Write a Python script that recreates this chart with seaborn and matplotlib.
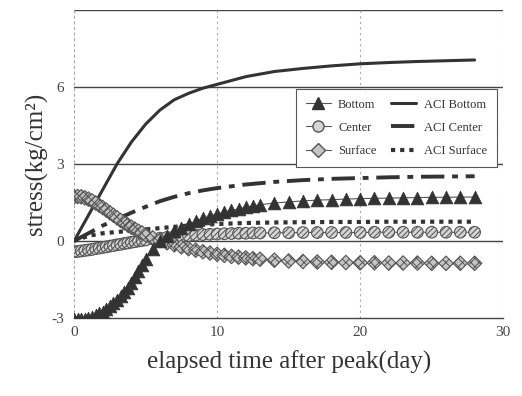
import numpy as np
import pandas as pd
import matplotlib
matplotlib.use("Agg")
import matplotlib.pyplot as plt
import seaborn as sns
from matplotlib.lines import Line2D

# ---------------- data ----------------
t_meas = [0, 0.25, 0.5, 0.75, 1, 1.25, 1.5, 1.75, 2, 2.25, 2.5, 2.75, 3, 3.25, 3.5, 3.75,
          4, 4.25, 4.5, 4.75, 5,
          5.5, 6, 6.5, 7, 7.5, 8, 8.5, 9, 9.5, 10, 10.5, 11, 11.5, 12, 12.5, 13,
          14, 15, 16, 17, 18, 19, 20, 21, 22, 23, 24, 25, 26, 27, 28]

bottom = [-3.05, -3.05, -3.05, -3.03, -3.0, -2.95, -2.88, -2.82, -2.75, -2.65, -2.55, -2.43,
          -2.3, -2.15, -2.0, -1.82, -1.62, -1.4, -1.17, -0.93, -0.7,
          -0.3, 0.0, 0.2, 0.38, 0.52, 0.65, 0.77, 0.88, 0.97, 1.05, 1.12, 1.19, 1.25, 1.31, 1.36, 1.41,
          1.48, 1.52, 1.56, 1.59, 1.61, 1.63, 1.65, 1.66, 1.67, 1.68, 1.69, 1.7, 1.7, 1.71, 1.71]

center = [-0.42, -0.41, -0.39, -0.37, -0.35, -0.33, -0.3, -0.28, -0.25, -0.23, -0.2, -0.18,
          -0.15, -0.13, -0.1, -0.08, -0.05, -0.03, 0.0, 0.02, 0.04,
          0.08, 0.11, 0.14, 0.17, 0.19, 0.21, 0.23, 0.25, 0.26, 0.27, 0.28, 0.29, 0.3, 0.3, 0.31, 0.31,
          0.32, 0.32, 0.33, 0.33, 0.33, 0.33, 0.33, 0.34, 0.34, 0.34, 0.34, 0.34, 0.34, 0.34, 0.34]

surface = [1.72, 1.73, 1.72, 1.68, 1.63, 1.56, 1.48, 1.39, 1.3, 1.2, 1.1, 1.0,
           0.9, 0.8, 0.71, 0.62, 0.54, 0.46, 0.38, 0.31, 0.24,
           0.12, 0.02, -0.07, -0.15, -0.23, -0.3, -0.36, -0.42, -0.47, -0.52, -0.56, -0.6, -0.63, -0.66, -0.69, -0.71,
           -0.75, -0.78, -0.8, -0.82, -0.83, -0.84, -0.85, -0.85, -0.86, -0.86, -0.86, -0.87, -0.87, -0.87, -0.87]

t_aci = [0, 1, 2, 3, 4, 5, 6, 7, 8, 9, 10, 12, 14, 16, 18, 20, 22, 24, 26, 28]
aci_bottom = [0.0, 1.0, 2.0, 3.0, 3.85, 4.55, 5.1, 5.5, 5.75, 5.95, 6.1, 6.4, 6.6, 6.72, 6.82, 6.9, 6.95, 6.99, 7.02, 7.05]
aci_center = [0.0, 0.3, 0.6, 0.85, 1.1, 1.33, 1.55, 1.72, 1.86, 1.97, 2.06, 2.2, 2.3, 2.37, 2.42, 2.45, 2.48, 2.5, 2.51, 2.52]
aci_surface = [0.0, 0.2, 0.3, 0.35, 0.4, 0.45, 0.5, 0.55, 0.6, 0.63, 0.66, 0.7, 0.72, 0.73, 0.74, 0.74, 0.75, 0.75, 0.75, 0.75]

x_ticks = [0, 10, 20, 30]
y_ticks = [-3, 0, 3, 6]

# ---------------- figure ----------------
sns.set_style("white")
plt.rcParams['font.family'] = ['Liberation Serif', 'DejaVu Serif']
plt.rcParams['axes.unicode_minus'] = False
plt.rcParams['hatch.linewidth'] = 0.7
plt.rcParams['hatch.color'] = '#555555'

fig = plt.figure(figsize=(5.22, 3.96), dpi=100)
ax = fig.add_axes([0.142, 0.197, 0.822, 0.778])

dark = "#333333"
gridc = "#444444"

# grid lines
for yv in [0, 3, 6, 9]:
    ax.axhline(yv, color=gridc, lw=1.0, zorder=1)
for xv in [10, 20, 30]:
    ax.axvline(xv, color="#aaaaaa", lw=0.8, ls=(0, (2, 3)), zorder=1)

df_meas = pd.DataFrame({"t": t_meas, "Bottom": bottom, "Center": center, "Surface": surface})
df_aci = pd.DataFrame({"t": t_aci, "ACI Bottom": aci_bottom,
                       "ACI Center": aci_center, "ACI Surface": aci_surface})

# ACI lines
sns.lineplot(data=df_aci, x="t", y="ACI Bottom", ax=ax, color=dark, lw=2.2, zorder=3)
sns.lineplot(data=df_aci, x="t", y="ACI Center", ax=ax, color=dark, lw=2.8, zorder=3)
ax.lines[-1].set_linestyle((0, (6, 2, 1.5, 2)))
sns.lineplot(data=df_aci, x="t", y="ACI Surface", ax=ax, color=dark, lw=3.0, zorder=3)
ax.lines[-1].set_linestyle((0, (1.0, 1.2)))

# measured series: thin connecting lines + markers
for col in ["Bottom", "Center", "Surface"]:
    sns.lineplot(data=df_meas, x="t", y=col, ax=ax, color="#555555", lw=0.8, zorder=4)

sns.scatterplot(data=df_meas, x="t", y="Center", ax=ax, marker="o", s=70,
                facecolor="#d4d4d4", edgecolor="#555555", linewidth=0.8, zorder=5)
ax.collections[-1].set_hatch("//////")
sns.scatterplot(data=df_meas, x="t", y="Surface", ax=ax, marker="D", s=55,
                facecolor="#c4c4c4", edgecolor="#555555", linewidth=0.8, zorder=5)
ax.collections[-1].set_hatch("xxxx")
sns.scatterplot(data=df_meas, x="t", y="Bottom", ax=ax, marker="^", s=85,
                facecolor=dark, edgecolor=dark, linewidth=0.5, zorder=6)

ax.set_xlim(0, 30)
ax.set_ylim(-3, 9)
ax.set_xticks(x_ticks)
ax.set_yticks(y_ticks)
ax.tick_params(axis="both", labelsize=11, colors="#444444", length=4, width=0.8)
ax.tick_params(axis="x", length=0, pad=6)

for s in ["top", "right"]:
    ax.spines[s].set_visible(False)
ax.spines["left"].set_color("#aaaaaa")
ax.spines["left"].set_linestyle((0, (2, 3)))
ax.spines["bottom"].set_color(gridc)
ax.spines["bottom"].set_linewidth(1.0)

ax.set_xlabel("elapsed time after peak(day)", fontsize=18, color="#333333", labelpad=8)
ax.set_ylabel("stress(kg/cm\u00b2)", fontsize=18, color="#333333", labelpad=2)

# legend
handles = [
    Line2D([], [], color="#555555", lw=0.8, marker="^", ms=9, mfc=dark, mec=dark),
    Line2D([], [], color="#555555", lw=0.8, marker="o", ms=8, mfc="#d4d4d4", mec="#555555"),
    Line2D([], [], color="#555555", lw=0.8, marker="D", ms=7, mfc="#c4c4c4", mec="#555555"),
    Line2D([], [], color=dark, lw=2.2),
    Line2D([], [], color=dark, lw=2.8, ls=(0, (6, 2, 1.5, 2))),
    Line2D([], [], color=dark, lw=3.0, ls=(0, (1.0, 1.2))),
]
labels = ["Bottom", "Center", "Surface", "ACI Bottom", "ACI Center", "ACI Surface"]
leg = ax.legend(handles, labels, ncol=2, loc="upper right", bbox_to_anchor=(1.0, 0.765),
                fontsize=9, frameon=True, fancybox=False, edgecolor="#555555",
                handlelength=2.0, handletextpad=0.6, columnspacing=1.2, labelspacing=0.9,
                borderpad=0.8, framealpha=1.0)
leg.get_frame().set_linewidth(0.8)
for txt in leg.get_texts():
    txt.set_color("#333333")

fig.savefig("out.png", dpi=100)
